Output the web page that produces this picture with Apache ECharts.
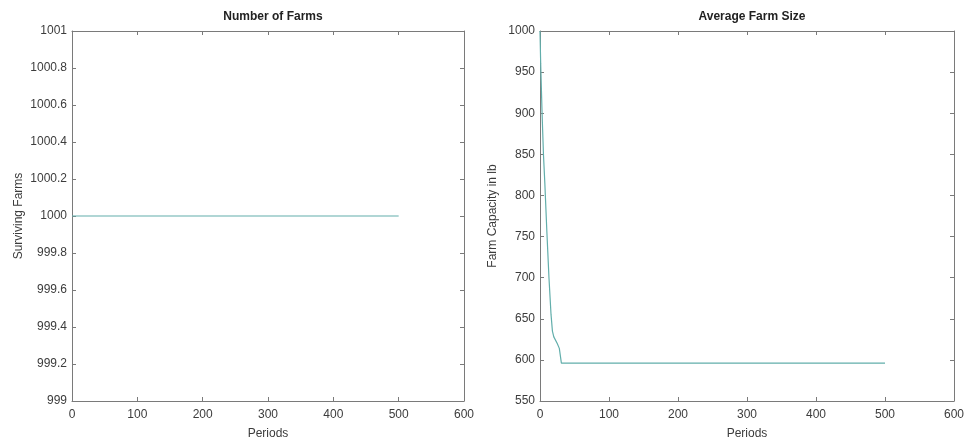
<!DOCTYPE html>
<html>
<head>
<meta charset="utf-8">
<script src="https://cdn.jsdelivr.net/npm/echarts@6/dist/echarts.min.js"></script>
<style>
html, body { margin:0; padding:0; background:#fff; }
#main { width:968px; height:445px; }
</style>
</head>
<body>
<div id="main"></div>
<script>
// 左图：存活农场数
var farmPeriods = [0, 500];
var farmCount = [1000, 1000];

// 右图：平均农场规模
var sizePeriods = [0, 1, 2, 3, 4, 5, 7, 10, 13, 16, 18, 20, 25, 28, 31, 500];
var sizeValues = [1000, 960, 930, 900, 875, 850, 815, 755, 700, 655, 635, 628, 620, 614, 596, 596];

var xTicks = [0, 100, 200, 300, 400, 500, 600];

function pairs(xs, ys) {
    var out = [];
    for (var i = 0; i < xs.length; i++) {
        out.push([xs[i], ys[i]]);
    }
    return out;
}

var lineColor = '#62aeab';
var axisColor = '#7a7a7a';
var textColor = '#3c3c3c';
var font = 'Liberation Sans';

function xAxisCfg(idx, pos, showLabel) {
    return {
        type: 'value', gridIndex: idx, position: pos,
        min: xTicks[0], max: xTicks[xTicks.length - 1], interval: 100,
        name: showLabel ? 'Periods' : '', nameLocation: 'middle', nameGap: 27,
        nameTextStyle: { color: textColor, fontFamily: font, fontSize: 12 },
        axisLine: { show: true, onZero: false, lineStyle: { color: axisColor, width: 1 } },
        axisTick: { show: true, inside: true, length: 4, lineStyle: { color: axisColor } },
        axisLabel: { show: showLabel, color: textColor, fontFamily: font, fontSize: 12, margin: 8 },
        splitLine: { show: false }
    };
}

function yAxisCfg(idx, pos, min, max, step, name, gap) {
    return {
        type: 'value', gridIndex: idx, position: pos,
        min: min, max: max, interval: step,
        name: name, nameLocation: 'middle', nameGap: gap,
        nameTextStyle: { color: textColor, fontFamily: font, fontSize: 12 },
        axisLine: { show: true, onZero: false, lineStyle: { color: axisColor, width: 1 } },
        axisTick: { show: true, inside: true, length: 4, lineStyle: { color: axisColor } },
        axisLabel: {
            show: name !== '', color: textColor, fontFamily: font, fontSize: 12, margin: 5,
            formatter: function (v) { return String(Math.round(v * 10) / 10); }
        },
        splitLine: { show: false }
    };
}

var myChart = echarts.init(document.getElementById('main'));
var option = {
    animation: false,
    backgroundColor: '#fff',
    title: [
        { text: 'Number of Farms', left: 268, top: 6, textAlign: 'center',
          textStyle: { fontFamily: font, fontSize: 12, fontWeight: 'bold', color: '#222' } },
        { text: 'Average Farm Size', left: 747, top: 6, textAlign: 'center',
          textStyle: { fontFamily: font, fontSize: 12, fontWeight: 'bold', color: '#222' } }
    ],
    grid: [
        { left: 72, right: 504, top: 31, bottom: 44 },
        { left: 540, right: 14, top: 31, bottom: 44 }
    ],
    xAxis: [
        xAxisCfg(0, 'bottom', true),
        xAxisCfg(0, 'top', false),
        xAxisCfg(1, 'bottom', true),
        xAxisCfg(1, 'top', false)
    ],
    yAxis: [
        yAxisCfg(0, 'left', 999, 1001, 0.2, 'Surviving Farms', 47),
        yAxisCfg(0, 'right', 999, 1001, 0.2, '', 0),
        yAxisCfg(1, 'left', 550, 1000, 50, 'Farm Capacity in lb', 41),
        yAxisCfg(1, 'right', 550, 1000, 50, '', 0)
    ],
    series: [
        {
            type: 'line', xAxisIndex: 0, yAxisIndex: 0,
            data: pairs(farmPeriods, farmCount),
            showSymbol: false, lineStyle: { color: lineColor, width: 1.2 }
        },
        {
            type: 'line', xAxisIndex: 2, yAxisIndex: 2,
            data: pairs(sizePeriods, sizeValues),
            showSymbol: false, lineStyle: { color: lineColor, width: 1.2 }
        }
    ]
};
myChart.setOption(option);
</script>
</body>
</html>
